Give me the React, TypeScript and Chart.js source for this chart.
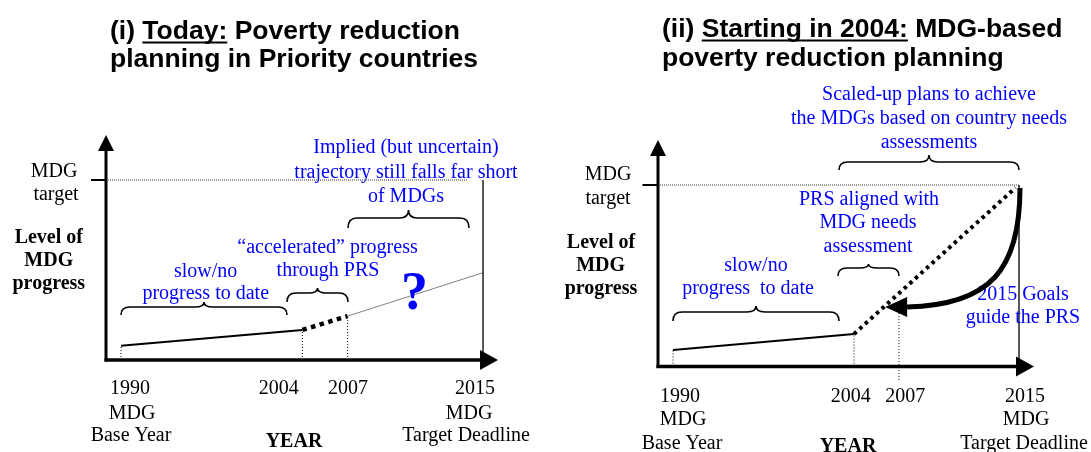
import React, { useEffect, useRef } from "react";
import { Chart, registerables } from "chart.js";

Chart.register(...registerables);

// ---------- data ----------
const yearLabels = ["1990", "2004", "2007", "2015"];
const yearSubLabels = [["MDG", "Base Year"], [], [], ["MDG", "Target Deadline"]];
// schematic position of each year along the time axis (1990 = 0, 2015 = 100)
const leftYearPos = [0, 50.1, 62.6, 100];
const rightYearPos = [0, 52.3, 65.3, 100];
const mdgTarget = 100;
// panel (i): level of MDG progress
const leftToDate = [7.9, 16.7]; // 1990 -> 2004
const leftAccelerated = [16.7, 24.4]; // 2004 -> 2007
const leftImplied = [24.4, 48.5]; // 2007 -> 2015
// panel (ii)
const rightToDate = [9.1, 17.9]; // 1990 -> 2004
const rightPlanned = [17.9, mdgTarget]; // 2004 -> 2015

const SERIF = '"Liberation Serif", "Times New Roman", serif';
const SANS = '"Liberation Sans", Arial, sans-serif';
const BLUE = "#0000ff";

type Txt = { t: string; x: number; y: number; font: string; color?: string };

function drawText(ctx: CanvasRenderingContext2D, items: Txt[]) {
  ctx.textAlign = "center";
  ctx.textBaseline = "alphabetic";
  for (const it of items) {
    ctx.font = it.font;
    ctx.fillStyle = it.color || "#000";
    ctx.fillText(it.t, it.x, it.y);
  }
}

function brace(ctx: CanvasRenderingContext2D, x0: number, x1: number, yTip: number, yBar: number, yEnd: number) {
  const xc = (x0 + x1) / 2;
  const r = Math.min(9, (x1 - x0) / 6);
  ctx.save();
  ctx.strokeStyle = "#000";
  ctx.lineWidth = 1.6;
  ctx.beginPath();
  ctx.moveTo(x0, yEnd);
  ctx.quadraticCurveTo(x0, yBar, x0 + r, yBar);
  ctx.lineTo(xc - r, yBar);
  ctx.quadraticCurveTo(xc, yBar, xc, yTip);
  ctx.quadraticCurveTo(xc, yBar, xc + r, yBar);
  ctx.lineTo(x1 - r, yBar);
  ctx.quadraticCurveTo(x1, yBar, x1, yEnd);
  ctx.stroke();
  ctx.restore();
}

function drawAxes(chart: any, tickX: number) {
  const ctx: CanvasRenderingContext2D = chart.ctx;
  const a = chart.chartArea;
  const ys = chart.scales.y;
  const L = a.left, R = a.right, T = a.top, B = a.bottom;
  ctx.save();
  ctx.fillStyle = "#000";
  ctx.strokeStyle = "#000";
  // y axis
  ctx.lineWidth = 3;
  ctx.beginPath();
  ctx.moveTo(L, B + 1.5);
  ctx.lineTo(L, T + 12);
  ctx.stroke();
  ctx.beginPath();
  ctx.moveTo(L, T);
  ctx.lineTo(L - 8, T + 16);
  ctx.lineTo(L + 8, T + 16);
  ctx.closePath();
  ctx.fill();
  // x axis
  ctx.lineWidth = 3.5;
  ctx.beginPath();
  ctx.moveTo(L - 1.5, B);
  ctx.lineTo(R - 14, B);
  ctx.stroke();
  ctx.beginPath();
  ctx.moveTo(R, B);
  ctx.lineTo(R - 18, B - 10);
  ctx.lineTo(R - 18, B + 10);
  ctx.closePath();
  ctx.fill();
  // MDG target tick
  const yT = ys.getPixelForValue(mdgTarget);
  ctx.lineWidth = 2;
  ctx.beginPath();
  ctx.moveTo(L - tickX, yT);
  ctx.lineTo(L, yT);
  ctx.stroke();
  ctx.restore();
}

function drawTitle(ctx: CanvasRenderingContext2D, x: number, y1: number, y2: number, pre: string, under: string, post: string, line2: string) {
  ctx.save();
  ctx.font = `bold 26.5px ${SANS}`;
  ctx.fillStyle = "#000";
  ctx.textAlign = "left";
  ctx.textBaseline = "alphabetic";
  const wPre = ctx.measureText(pre).width;
  const wUnder = ctx.measureText(under).width;
  ctx.fillText(pre + under + post, x, y1);
  ctx.fillRect(x + wPre, y1 + 2.5, wUnder, 2);
  ctx.fillText(line2, x, y2);
  ctx.restore();
}

function drawTicks(chart: any, pos: number[], dx: number[][], baselines: number[]) {
  const ctx: CanvasRenderingContext2D = chart.ctx;
  const xs = chart.scales.x;
  const items: Txt[] = [];
  yearLabels.forEach((lab, i) => {
    const px = xs.getPixelForValue(pos[i]);
    const lines = [lab, ...yearSubLabels[i]];
    lines.forEach((s, j) => {
      items.push({ t: s, x: px + dx[i][j], y: baselines[j], font: `20px ${SERIF}` });
    });
  });
  drawText(ctx, items);
}

// ---------- panel (i) ----------
const leftPlugin = {
  id: "leftAnno",
  afterDraw(chart: any) {
    const ctx: CanvasRenderingContext2D = chart.ctx;
    drawAxes(chart, 15);
    drawTitle(ctx, 110, 39, 67, "(i) ", "Today:", " Poverty reduction", "planning in Priority countries");
    drawTicks(chart, leftYearPos, [[9, 11, 10], [-23.5], [0.5], [-8, -14, -17]], [394, 419, 441]);
    const b = `bold 20px ${SERIF}`;
    const n = `20px ${SERIF}`;
    drawText(ctx, [
      { t: "Implied (but uncertain)", x: 406, y: 153, font: n, color: BLUE },
      { t: "trajectory still falls far short", x: 406, y: 178, font: n, color: BLUE },
      { t: "of MDGs", x: 406, y: 202, font: n, color: BLUE },
      { t: "\u201Caccelerated\u201D progress", x: 327.5, y: 253, font: n, color: BLUE },
      { t: "through PRS", x: 328, y: 276, font: n, color: BLUE },
      { t: "slow/no", x: 205.6, y: 277, font: n, color: BLUE },
      { t: "progress to date", x: 205.7, y: 299, font: n, color: BLUE },
      { t: "?", x: 414.6, y: 309, font: `bold 54px ${SERIF}`, color: BLUE },
      { t: "Level of", x: 48.8, y: 243, font: b },
      { t: "MDG", x: 48.8, y: 266, font: b },
      { t: "progress", x: 48.8, y: 289, font: b },
      { t: "MDG", x: 54, y: 177, font: n },
      { t: "target", x: 56, y: 200, font: n },
      { t: "YEAR", x: 294, y: 447, font: b },
    ]);
    brace(ctx, 121, 287, 302, 307, 315);
    brace(ctx, 287, 348, 288, 293, 302);
    brace(ctx, 348, 469, 210, 218, 228);
  },
};

// ---------- panel (ii) ----------
const guideArrowTip = { pos: 61.3, level: 32.8 };
const rightPlugin = {
  id: "rightAnno",
  afterDraw(chart: any) {
    const ctx: CanvasRenderingContext2D = chart.ctx;
    const xs = chart.scales.x;
    const ys = chart.scales.y;
    drawAxes(chart, 15.5);
    drawTitle(ctx, 117, 37, 66, "(ii) ", "Starting in 2004:", " MDG-based", "poverty reduction planning");
    drawTicks(chart, rightYearPos, [[7, 10, 9], [-3.3], [6.3], [6, 7, 5]], [402, 425, 449]);
    const b = `bold 20px ${SERIF}`;
    const n = `20px ${SERIF}`;
    drawText(ctx, [
      { t: "Scaled-up plans to achieve", x: 384, y: 100, font: n, color: BLUE },
      { t: "the MDGs based on country needs", x: 384, y: 124, font: n, color: BLUE },
      { t: "assessments", x: 384, y: 148, font: n, color: BLUE },
      { t: "PRS aligned with", x: 324, y: 205, font: n, color: BLUE },
      { t: "MDG needs", x: 323, y: 228, font: n, color: BLUE },
      { t: "assessment", x: 323, y: 252, font: n, color: BLUE },
      { t: "slow/no", x: 211, y: 271, font: n, color: BLUE },
      { t: "progress  to date", x: 203, y: 294, font: n, color: BLUE },
      { t: "2015 Goals", x: 478, y: 300, font: n, color: BLUE },
      { t: "guide the PRS", x: 478, y: 323, font: n, color: BLUE },
      { t: "Level of", x: 56, y: 248, font: b },
      { t: "MDG", x: 55.6, y: 271, font: b },
      { t: "progress", x: 56, y: 294, font: b },
      { t: "MDG", x: 63, y: 180, font: n },
      { t: "target", x: 63, y: 204, font: n },
      { t: "YEAR", x: 303, y: 452, font: b },
    ]);
    brace(ctx, 294, 474, 155, 162, 170);
    brace(ctx, 293, 354, 264, 268, 276);
    brace(ctx, 128, 294, 306, 312, 321);
    // curved "2015 Goals guide the PRS" arrow
    const sx = xs.getPixelForValue(100) + 1;
    const sy = ys.getPixelForValue(mdgTarget) + 3;
    const tx = xs.getPixelForValue(guideArrowTip.pos);
    const ty = ys.getPixelForValue(guideArrowTip.level);
    const bx = tx + 22;
    ctx.save();
    ctx.strokeStyle = "#000";
    ctx.fillStyle = "#000";
    ctx.lineWidth = 5;
    ctx.beginPath();
    ctx.moveTo(sx, sy);
    ctx.bezierCurveTo(sx, sy + 82, sx - 30, ty - 2, bx, ty);
    ctx.stroke();
    ctx.beginPath();
    ctx.moveTo(tx, ty);
    ctx.lineTo(bx, ty - 10);
    ctx.lineTo(bx, ty + 10);
    ctx.closePath();
    ctx.fill();
    ctx.restore();
  },
};

const seg = (x0: number, y0: number, x1: number, y1: number) => [
  { x: x0, y: y0 },
  { x: x1, y: y1 },
];

function lineDs(data: any[], extra: any = {}) {
  return {
    data,
    borderColor: "#000",
    borderWidth: 1,
    pointRadius: 0,
    fill: false,
    tension: 0,
    clip: false,
    borderCapStyle: "butt",
    ...extra,
  };
}

const dotted = { borderDash: [1, 2], borderWidth: 1 };

function makeLeftConfig() {
  const p = leftYearPos;
  return {
    type: "line",
    data: {
      datasets: [
        lineDs(seg(-4.14, mdgTarget, 95.6, mdgTarget), { borderDash: [1, 1], borderColor: "#333" }),
        lineDs(seg(p[3], 0, p[3], mdgTarget), { borderWidth: 1.3 }),
        lineDs(seg(p[0], 0, p[0], leftToDate[0]), dotted),
        lineDs(seg(p[1], 0, p[1], leftToDate[1]), dotted),
        lineDs(seg(p[2], 0, p[2], leftAccelerated[1]), dotted),
        lineDs(seg(p[0], leftToDate[0], p[1], leftToDate[1]), { borderWidth: 2 }),
        lineDs(seg(p[1], leftAccelerated[0], p[2], leftAccelerated[1]), { borderWidth: 4.5, borderDash: [4.5, 4.5] }),
        lineDs(seg(p[2], leftImplied[0], p[3], leftImplied[1]), { borderColor: "#808080", borderWidth: 1 }),
      ],
    },
    options: {
      animation: false,
      responsive: false,
      events: [],
      layout: { padding: { left: 106, right: 47, top: 135, bottom: 92 } },
      plugins: { legend: { display: false }, tooltip: { enabled: false } },
      scales: {
        x: { type: "linear", display: false, min: -4.144, max: 104.14 },
        y: { type: "linear", display: false, min: 0, max: 125 },
      },
    },
    plugins: [leftPlugin],
  };
}

function makeRightConfig() {
  const p = rightYearPos;
  return {
    type: "line",
    data: {
      datasets: [
        lineDs(seg(-4.335, mdgTarget, p[3], mdgTarget), { borderDash: [1, 1], borderColor: "#333" }),
        lineDs(seg(p[3], 0, p[3], mdgTarget), { borderWidth: 1.3 }),
        lineDs(seg(p[0], 0, p[0], rightToDate[0]), dotted),
        lineDs(seg(p[1], 0, p[1], rightToDate[1]), dotted),
        lineDs(seg(p[2], -7.5, p[2], 31), dotted),
        lineDs(seg(p[0], rightToDate[0], p[1], rightToDate[1]), { borderWidth: 2 }),
        lineDs(seg(p[1], rightPlanned[0], p[3] - 1, rightPlanned[1] - 1.5), { borderWidth: 4, borderDash: [3.5, 4] }),
      ],
    },
    options: {
      animation: false,
      responsive: false,
      events: [],
      layout: { padding: { left: 113, right: 57, top: 140, bottom: 85.5 } },
      plugins: { legend: { display: false }, tooltip: { enabled: false } },
      scales: {
        x: { type: "linear", display: false, min: -4.335, max: 104.335 },
        y: { type: "linear", display: false, min: 0, max: 124.8 },
      },
    },
    plugins: [rightPlugin],
  };
}

export default function App() {
  const leftRef = useRef<HTMLCanvasElement>(null);
  const rightRef = useRef<HTMLCanvasElement>(null);
  useEffect(() => {
    const c1 = new Chart(leftRef.current as HTMLCanvasElement, makeLeftConfig() as any);
    const c2 = new Chart(rightRef.current as HTMLCanvasElement, makeRightConfig() as any);
    return () => {
      c1.destroy();
      c2.destroy();
    };
  }, []);
  return (
    <div style={{ position: "fixed", left: 0, top: 0, width: 1091, height: 452, background: "#fff" }}>
      <canvas ref={leftRef} width={545} height={452} style={{ position: "absolute", left: 0, top: 0, width: 545, height: 452 }} />
      <canvas ref={rightRef} width={546} height={452} style={{ position: "absolute", left: 545, top: 0, width: 546, height: 452 }} />
    </div>
  );
}
